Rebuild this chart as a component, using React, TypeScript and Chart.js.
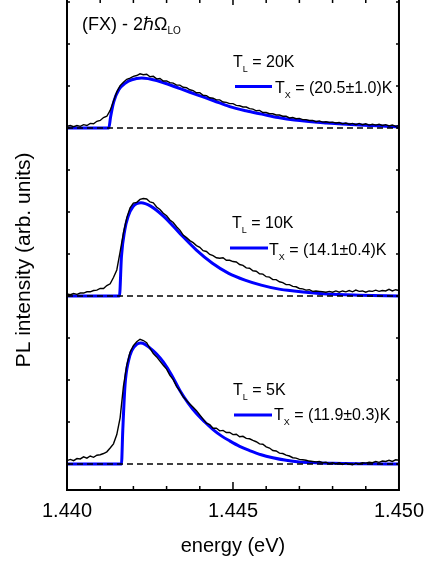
import React, { useEffect, useRef } from "react";
import { Chart, registerables } from "chart.js";

Chart.register(...registerables);

// ---- data ----
const ENERGY = [
  1.4400, 1.4401, 1.4402, 1.4403, 1.4404, 1.4405, 1.4406, 1.4407, 1.4408, 1.4409,
  1.4410, 1.4411, 1.4412, 1.4413, 1.4414, 1.4415, 1.4416, 1.4417, 1.4418, 1.4419,
  1.4420, 1.4421, 1.4422, 1.4423, 1.4424, 1.4425, 1.4426, 1.4427, 1.4428, 1.4429,
  1.4430, 1.4431, 1.4432, 1.4433, 1.4434, 1.4435, 1.4436, 1.4437, 1.4438, 1.4439,
  1.4440, 1.4441, 1.4442, 1.4443, 1.4444, 1.4445, 1.4446, 1.4447, 1.4448, 1.4449,
  1.4450, 1.4451, 1.4452, 1.4453, 1.4454, 1.4455, 1.4456, 1.4457, 1.4458, 1.4459,
  1.4460, 1.4461, 1.4462, 1.4463, 1.4464, 1.4465, 1.4466, 1.4467, 1.4468, 1.4469,
  1.4470, 1.4471, 1.4472, 1.4473, 1.4474, 1.4475, 1.4476, 1.4477, 1.4478, 1.4479,
  1.4480, 1.4481, 1.4482, 1.4483, 1.4484, 1.4485, 1.4486, 1.4487, 1.4488, 1.4489,
  1.4490, 1.4491, 1.4492, 1.4493, 1.4494, 1.4495, 1.4496, 1.4497, 1.4498, 1.4499,
  1.4500,
];

const PL_20K = [
  0.04, 0.06, 0.03, 0.06, 0.04, 0.08, 0.06, 0.11, 0.10, 0.16,
  0.18, 0.25, 0.28, 0.42, 0.64, 0.86, 1.01, 1.09, 1.16, 1.19,
  1.23, 1.25, 1.29, 1.27, 1.28, 1.22, 1.23, 1.17, 1.18, 1.12,
  1.12, 1.08, 1.07, 1.02, 1.02, 0.97, 0.96, 0.91, 0.89, 0.84,
  0.84, 0.78, 0.77, 0.72, 0.71, 0.67, 0.67, 0.62, 0.61, 0.58,
  0.58, 0.54, 0.53, 0.50, 0.50, 0.46, 0.45, 0.41, 0.42, 0.37,
  0.37, 0.34, 0.34, 0.31, 0.31, 0.28, 0.28, 0.24, 0.25, 0.22,
  0.23, 0.20, 0.20, 0.18, 0.18, 0.15, 0.17, 0.14, 0.15, 0.13,
  0.14, 0.12, 0.13, 0.10, 0.12, 0.09, 0.11, 0.08, 0.11, 0.08,
  0.10, 0.07, 0.09, 0.07, 0.09, 0.06, 0.08, 0.05, 0.07, 0.04,
  0.06,
];

const PL_10K = [
  0.05, 0.03, 0.06, 0.04, 0.07, 0.07, 0.10, 0.10, 0.13, 0.14,
  0.18, 0.18, 0.25, 0.29, 0.44, 0.62, 1.05, 1.50, 1.86, 2.10,
  2.21, 2.23, 2.30, 2.32, 2.31, 2.24, 2.22, 2.12, 2.06, 1.97,
  1.91, 1.81, 1.75, 1.65, 1.57, 1.45, 1.39, 1.32, 1.27, 1.20,
  1.16, 1.08, 1.06, 0.99, 0.96, 0.91, 0.90, 0.91, 0.85, 0.85,
  0.82, 0.81, 0.75, 0.73, 0.67, 0.66, 0.60, 0.59, 0.53, 0.52,
  0.46, 0.45, 0.39, 0.39, 0.34, 0.32, 0.27, 0.27, 0.23, 0.22,
  0.18, 0.17, 0.14, 0.15, 0.11, 0.12, 0.11, 0.10, 0.09, 0.11,
  0.09, 0.12, 0.09, 0.12, 0.10, 0.13, 0.10, 0.14, 0.11, 0.12,
  0.09, 0.12, 0.11, 0.14, 0.11, 0.13, 0.12, 0.16, 0.12, 0.15,
  0.13,
];

const PL_5K = [
  0.08, 0.11, 0.08, 0.13, 0.12, 0.17, 0.14, 0.19, 0.16, 0.21,
  0.22, 0.25, 0.29, 0.38, 0.48, 0.70, 1.10, 1.85, 2.35, 2.66,
  2.82, 2.91, 2.97, 2.94, 2.89, 2.75, 2.63, 2.55, 2.45, 2.35,
  2.26, 2.11, 2.01, 1.85, 1.74, 1.60, 1.51, 1.43, 1.35, 1.27,
  1.17, 1.07, 0.97, 0.94, 0.85, 0.85, 0.79, 0.80, 0.75, 0.75,
  0.70, 0.71, 0.65, 0.66, 0.61, 0.60, 0.56, 0.53, 0.48, 0.47,
  0.41, 0.38, 0.32, 0.31, 0.26, 0.25, 0.21, 0.19, 0.15, 0.14,
  0.11, 0.10, 0.09, 0.07, 0.06, 0.05, 0.06, 0.03, 0.04, 0.01,
  0.03, 0.00, 0.03, -0.01, 0.02, 0.00, -0.02, 0.02, 0.00, 0.03,
  0.02, 0.04, 0.03, 0.06, 0.04, 0.07, 0.06, 0.09, 0.06, 0.10,
  0.09,
];

const FIT_20K_E = [1.4400, 1.44126, 1.44131, 1.44141, 1.44156, 1.44176, 1.44195, 1.44225, 1.44270, 1.44343, 1.44392, 1.44442, 1.44490, 1.44539, 1.44587, 1.44636, 1.44685, 1.44783, 1.44881, 1.4500];
const FIT_20K = [0, 0, 0.25, 0.63, 0.91, 1.07, 1.15, 1.19, 1.13, 0.93, 0.79, 0.65, 0.51, 0.41, 0.33, 0.25, 0.19, 0.12, 0.07, 0.03];

const FIT_10K_E = [1.4400, 1.44158, 1.44164, 1.44174, 1.44184, 1.44199, 1.44223, 1.44252, 1.44292, 1.44340, 1.44389, 1.44438, 1.44487, 1.44536, 1.44585, 1.44635, 1.44684, 1.44782, 1.44880, 1.4500];
const FIT_10K = [0, 0, 0.94, 1.57, 1.89, 2.13, 2.22, 2.14, 1.89, 1.49, 1.10, 0.78, 0.54, 0.38, 0.26, 0.17, 0.12, 0.05, 0.02, 0];

const FIT_5K_E = [1.4400, 1.44164, 1.44168, 1.44175, 1.44185, 1.44195, 1.44210, 1.44222, 1.44235, 1.44250, 1.44270, 1.44290, 1.44315, 1.44340, 1.44365, 1.44390, 1.44415, 1.44440, 1.44465, 1.44490, 1.44520, 1.44550, 1.44585, 1.44620, 1.44660, 1.44700, 1.44750, 1.44800, 1.44900, 1.45000];
const FIT_5K = [0, 0, 0.8, 1.9, 2.45, 2.7, 2.85, 2.88, 2.85, 2.76, 2.62, 2.43, 2.12, 1.75, 1.45, 1.20, 1.00, 0.82, 0.67, 0.55, 0.42, 0.32, 0.22, 0.15, 0.09, 0.05, 0.03, 0.015, 0.005, 0];

const PANEL_OFFSETS = [8, 4, 0];
const LATTICE_T = ["20K", "10K", "5K"];
const EXCITON_T = ["(20.5±1.0)K", "(14.1±0.4)K", "(11.9±0.3)K"];

const X_TICK_LABELS = [1.440, 1.445, 1.450];
const X_MINOR_TICKS = [1.441, 1.442, 1.443, 1.444, 1.445, 1.446, 1.447, 1.448, 1.449];
const Y_TICKS = [0, 1, 2, 3, 4, 5, 6, 7, 8, 9, 10, 11];

const Y_TITLE = "PL intensity (arb. units)";

const FONT = '"Liberation Sans", Arial, sans-serif';

// label layout per panel (pixel offsets relative to the panel baseline)
const LABEL_LAYOUT = [
  { tlX: 233, tlDy: -61.5, lineX0: 235, lineX1: 272, lineDy: -41.5, txX: 275, txDy: -35.5 },
  { tlX: 232, tlDy: -68, lineX0: 230, lineX1: 268, lineDy: -48, txX: 269, txDy: -41 },
  { tlX: 233, tlDy: -69, lineX0: 234, lineX1: 272, lineDy: -49, txX: 274, txDy: -44 },
];

function drawSubText(ctx, x, y, main, sub, rest, size, subSize, drop) {
  ctx.font = `${size}px ${FONT}`;
  ctx.fillText(main, x, y);
  let w = ctx.measureText(main).width;
  ctx.font = `${subSize}px ${FONT}`;
  ctx.fillText(sub, x + w, y + drop);
  w += ctx.measureText(sub).width;
  if (rest) {
    ctx.font = `${size}px ${FONT}`;
    ctx.fillText(rest, x + w, y);
  }
}

const framePlugin = {
  id: "frameAndLabels",
  afterDatasetsDraw(chart) {
    const { ctx, chartArea } = chart;
    const xs = chart.scales.x;
    const ys = chart.scales.y;
    const { left, right, top, bottom } = chartArea;
    ctx.save();
    ctx.strokeStyle = "#000";
    ctx.lineWidth = 2;
    ctx.beginPath();
    ctx.moveTo(left, top);
    ctx.lineTo(left, bottom);
    ctx.lineTo(right, bottom);
    ctx.lineTo(right, top);
    ctx.stroke();

    ctx.lineWidth = 1.5;
    ctx.beginPath();
    X_MINOR_TICKS.forEach((v) => {
      const px = xs.getPixelForValue(v);
      const major = Math.abs(v - 1.445) < 1e-9;
      ctx.moveTo(px, bottom);
      ctx.lineTo(px, bottom - (major ? 8 : 4));
      ctx.moveTo(px, top);
      ctx.lineTo(px, top + (major ? 5 : 3));
    });
    Y_TICKS.forEach((v) => {
      const py = ys.getPixelForValue(v);
      ctx.moveTo(left, py);
      ctx.lineTo(left + 3, py);
      ctx.moveTo(right, py);
      ctx.lineTo(right - 3, py);
    });
    ctx.stroke();

    // y axis title
    ctx.fillStyle = "#000";
    ctx.save();
    ctx.translate(24, 260);
    ctx.rotate(-Math.PI / 2);
    ctx.textAlign = "center";
    ctx.textBaseline = "middle";
    ctx.font = `21px ${FONT}`;
    ctx.fillText(Y_TITLE, 0, 0);
    ctx.restore();

    ctx.textBaseline = "alphabetic";
    ctx.textAlign = "left";
    drawSubText(ctx, 82, 30, "(FX) - 2ℏΩ", "LO", "", 18, 10, 4);

    PANEL_OFFSETS.forEach((off, i) => {
      const base = ys.getPixelForValue(off);
      const L = LABEL_LAYOUT[i];
      ctx.fillStyle = "#000";
      drawSubText(ctx, L.tlX, base + L.tlDy, "T", "L", " = " + LATTICE_T[i], 16, 9, 5);
      ctx.strokeStyle = "#0000ff";
      ctx.lineWidth = 3;
      ctx.beginPath();
      ctx.moveTo(L.lineX0, base + L.lineDy);
      ctx.lineTo(L.lineX1, base + L.lineDy);
      ctx.stroke();
      ctx.fillStyle = "#000";
      drawSubText(ctx, L.txX, base + L.txDy, "T", "X", " = " + EXCITON_T[i], 16, 9, 5);
    });
    ctx.restore();
  },
};

export default function App() {
  const ref = useRef(null);
  useEffect(() => {
    const spectra = [PL_20K, PL_10K, PL_5K];
    const fitsE = [FIT_20K_E, FIT_10K_E, FIT_5K_E];
    const fits = [FIT_20K, FIT_10K, FIT_5K];
    const datasets = [];
    PANEL_OFFSETS.forEach((off, i) => {
      datasets.push({
        data: [
          { x: ENERGY[0], y: off },
          { x: ENERGY[ENERGY.length - 1], y: off },
        ],
        borderColor: "#000",
        borderWidth: 1.3,
        borderDash: [6, 4],
        pointRadius: 0,
        order: 0,
      });
      datasets.push({
        data: ENERGY.map((e, k) => ({ x: e, y: spectra[i][k] + off })),
        borderColor: "#000",
        borderWidth: 1.4,
        pointRadius: 0,
        order: 1,
      });
      datasets.push({
        data: fitsE[i].map((e, k) => ({ x: e, y: fits[i][k] + off })),
        borderColor: "#0000ff",
        borderWidth: 3,
        pointRadius: 0,
        cubicInterpolationMode: "monotone",
        order: 2,
      });
    });

    const chart = new Chart(ref.current, {
      type: "line",
      data: { datasets },
      options: {
        animation: false,
        responsive: false,
        devicePixelRatio: 1,
        layout: { padding: { left: 0, right: 26, top: 0, bottom: 0 } },
        plugins: { legend: { display: false }, tooltip: { enabled: false } },
        scales: {
          x: {
            type: "linear",
            min: 1.44,
            max: 1.45,
            grid: { display: false, drawTicks: false },
            border: { display: false },
            afterBuildTicks: (s) => {
              s.ticks = X_TICK_LABELS.map((v) => ({ value: v }));
            },
            afterFit: (s) => {
              s.height = 72;
            },
            ticks: {
              autoSkip: false,
              maxRotation: 0,
              padding: 9,
              color: "#000",
              font: { family: FONT, size: 20 },
              callback: (v) => Number(v).toFixed(3),
            },
            title: {
              display: true,
              text: "energy (eV)",
              color: "#000",
              font: { family: FONT, size: 20 },
              padding: { top: 0, bottom: 4 },
            },
          },
          y: {
            type: "linear",
            min: -0.619,
            max: 11.048,
            grid: { display: false, drawTicks: false },
            border: { display: false },
            ticks: { display: false },
            afterFit: (s) => {
              s.width = 67;
            },
          },
        },
      },
      plugins: [framePlugin],
    });
    return () => chart.destroy();
  }, []);

  return (
    <div style={{ position: "absolute", left: 0, top: 0, width: 433, height: 562, background: "#fff" }}>
      <canvas ref={ref} width={433} height={562} style={{ display: "block" }} />
    </div>
  );
}
